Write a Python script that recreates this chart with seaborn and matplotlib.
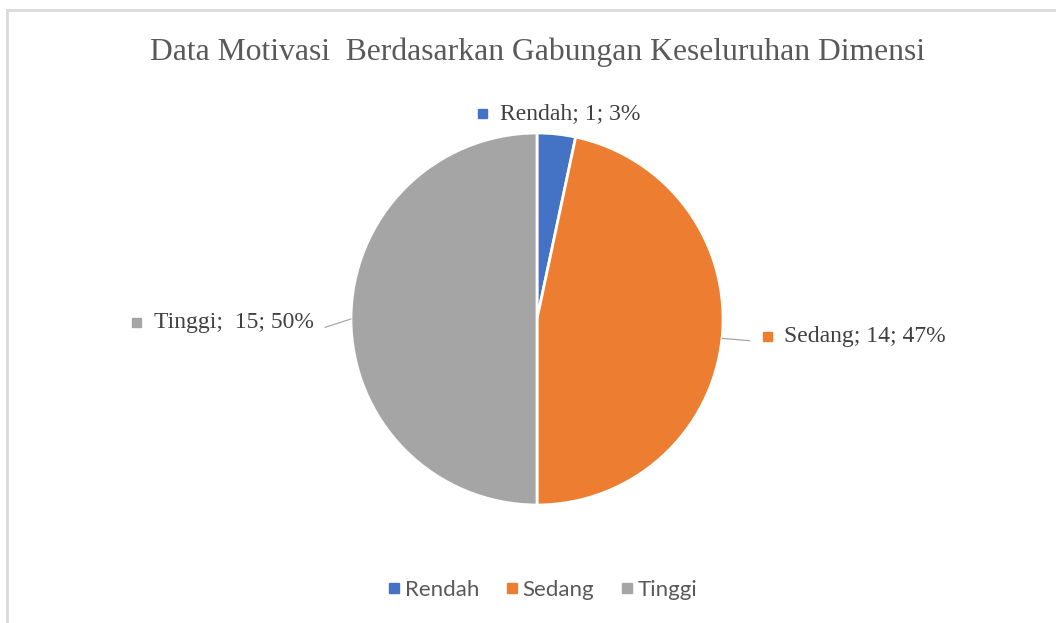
import numpy as np
import matplotlib
matplotlib.use('Agg')
import matplotlib.pyplot as plt
import seaborn as sns
from matplotlib.lines import Line2D
from matplotlib.patches import Rectangle
from matplotlib.offsetbox import TextArea, DrawingArea, HPacker, AnnotationBbox

# data motivasi
kategori = ['Rendah', 'Sedang', 'Tinggi']
jumlah = [1, 14, 15]
label_teks = ['Rendah; 1; 3%', 'Sedang; 14; 47%', 'Tinggi;  15; 50%']
warna = ['#4472C4', '#ED7D31', '#A5A5A5']

sns.set_theme(style='white')
plt.rcParams['font.family'] = ['Liberation Serif', 'DejaVu Serif']

fig = plt.figure(figsize=(10.56, 6.23), dpi=100)
ax = fig.add_axes([0, 0, 1, 1])
wedges, _ = ax.pie(jumlah, colors=sns.color_palette(warna), startangle=90, counterclock=False,
                   wedgeprops=dict(edgecolor='white', linewidth=2))

# skala: jari-jari 186 px, pusat di (537, 319) dari atas
r_px = 186
ax.set_xlim(-537 / r_px, (1056 - 537) / r_px)
ax.set_ylim(-(623 - 319) / r_px, 319 / r_px)
ax.axis('off')

# label data dengan kotak warna
jarak = [1.11, 1.21, 1.2]
geser_y = [0, 0.035, -0.02]
for w, teks, c, r, dy in zip(wedges, label_teks, warna, jarak, geser_y):
    sudut = np.deg2rad((w.theta1 + w.theta2) / 2)
    x, y = np.cos(sudut), np.sin(sudut)
    kotak = DrawingArea(9, 9)
    kotak.add_artist(Rectangle((1.25, 1.25), 6.5, 6.5, color=c))
    ta = TextArea(teks, textprops=dict(color='#404040', fontsize=17))
    box = HPacker(children=[kotak, ta], align='center', pad=0, sep=8)
    if abs(x) < 0.3:
        align = (0.5, 0.5)
    elif x > 0:
        align = (0, 0.5)
    else:
        align = (1, 0.5)
    ly = r * y + dy
    ab = AnnotationBbox(box, (r * x, ly), box_alignment=align, frameon=False)
    ax.add_artist(ab)
    # garis penunjuk
    if abs(x) >= 0.3:
        ax.plot([x, (r - 0.06) * x], [y, ly - 0.025], color='#A6A6A6', lw=0.9)

# judul
fig.text(537 / 1056, 1 - 52 / 623, 'Data Motivasi  Berdasarkan Gabungan Keseluruhan Dimensi',
         ha='center', va='center', fontsize=22.8, color='#595959')

# legenda
handles = [Line2D([], [], marker='s', linestyle='none', markersize=7, color=c) for c in warna]
fig.legend(handles, kategori, loc='center', bbox_to_anchor=(0.512, 1 - 590 / 623), ncol=3,
           frameon=False, prop={'family': 'Lato', 'size': 16}, labelcolor='#595959',
           handletextpad=0.05, columnspacing=1.0, handlelength=0.9)

# bingkai area grafik
fig.add_artist(Rectangle((7 / 1056, -0.1), 1.2, 1 - 10 / 623 + 0.1, transform=fig.transFigure,
                         fill=False, edgecolor='#D9D9D9', lw=2))

fig.savefig('out.png', dpi=100)
